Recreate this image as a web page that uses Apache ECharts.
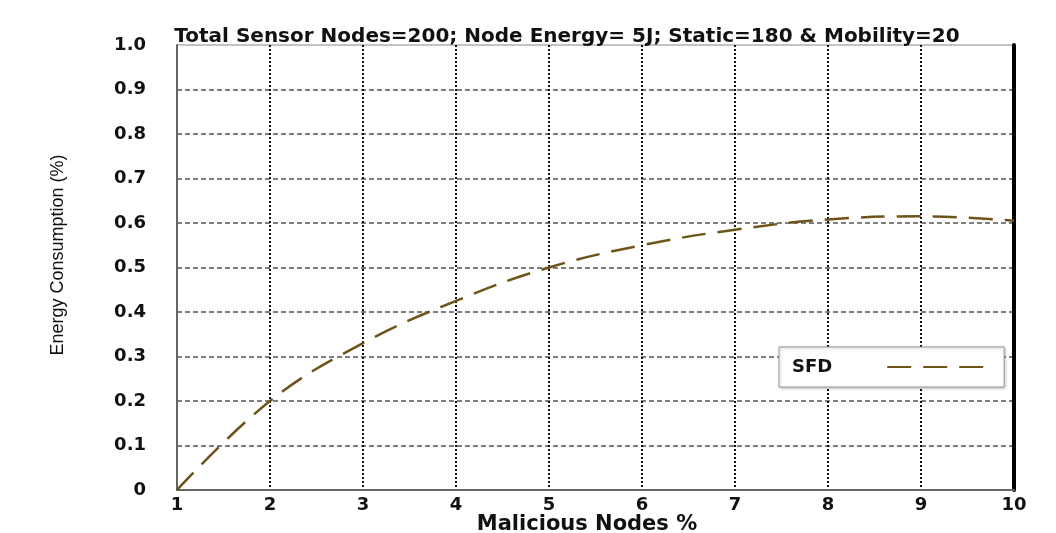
<!DOCTYPE html>
<html>
<head>
<meta charset="utf-8">
<script src="https://cdn.jsdelivr.net/npm/echarts@6/dist/echarts.min.js"></script>
<style>html,body{margin:0;padding:0;background:#fff}#c{width:1056px;height:533px}</style>
</head>
<body>
<div id="c"></div>
<script>
var titleText = 'Total Sensor Nodes=200; Node Energy= 5J; Static=180 & Mobility=20';
var xName = 'Malicious Nodes %';
var yName = 'Energy Consumption (%)';
var seriesName = 'SFD';
var xValues = [1, 2, 3, 4, 5, 6, 7, 8, 9, 10];
var sfdValues = [0.0, 0.2, 0.33, 0.425, 0.5, 0.55, 0.585, 0.608, 0.615, 0.605];

var chart = echarts.init(document.getElementById('c'));
var data = xValues.map(function (x, i) { return [x, sfdValues[i]]; });
var boldFont = 'DejaVu Sans';
chart.setOption({
  animation: false,
  backgroundColor: '#fff',
  title: {
    text: titleText, left: 562, top: 22, textAlign: 'center',
    textStyle: { fontFamily: boldFont, fontWeight: 'bold', fontSize: 20, color: '#111' }
  },
  grid: { left: 177, right: 42, top: 45, bottom: 43, show: true, borderColor: '#888', borderWidth: 1 },
  legend: {
    data: [seriesName], left: 779, top: 347, orient: 'horizontal', align: 'right',
    itemWidth: 108, itemHeight: 14,
    padding: [11, 8, 11, 13],
    backgroundColor: '#fff', borderColor: '#999', borderWidth: 1,
    shadowColor: 'rgba(0,0,0,0.25)', shadowBlur: 3, shadowOffsetX: 1, shadowOffsetY: 1,
    itemStyle: { color: 'rgba(0,0,0,0)', borderWidth: 0 },
    textStyle: { fontFamily: boldFont, fontWeight: 'bold', fontSize: 18, color: '#111', padding: [0, 50, 0, 0] }
  },
  xAxis: {
    type: 'value', min: 1, max: 10, interval: 1,
    axisLine: { show: true, lineStyle: { color: '#666', width: 2 } },
    axisTick: { show: false },
    axisLabel: { margin: 6, fontFamily: boldFont, fontWeight: 'bold', fontSize: 18, color: '#111' },
    splitLine: { show: true, showMinLine: false, showMaxLine: false, lineStyle: { color: '#111', width: 2, type: [2, 2] } }
  },
  yAxis: [{
    type: 'value', min: 0, max: 1, interval: 0.1,
    axisLine: { show: true, lineStyle: { color: '#666', width: 2 } },
    axisTick: { show: false },
    axisLabel: {
      margin: 31, fontFamily: boldFont, fontWeight: 'bold', fontSize: 18, color: '#111',
      formatter: function (v) { return v === 0 ? '0' : v.toFixed(1); }
    },
    splitLine: { show: true, showMinLine: false, showMaxLine: false, lineStyle: { color: '#555', width: 1.5, type: [5, 3] } }
  }, {
    type: 'value', min: 0, max: 1, interval: 0.1, position: 'right',
    axisLine: { show: true, lineStyle: { color: '#000', width: 4 } },
    axisTick: { show: false }, axisLabel: { show: false }, splitLine: { show: false }
  }],
  graphic: [{
    type: 'text', rotation: Math.PI / 2,
    style: { text: yName, fontFamily: 'Liberation Sans Narrow, Liberation Sans', fontSize: 18, fill: '#111', align: 'center', verticalAlign: 'middle' },
    x: 58, y: 255
  }, {
    type: 'text',
    style: { text: xName, fontFamily: boldFont, fontWeight: 'bold', fontSize: 21, fill: '#111', align: 'center', verticalAlign: 'middle' },
    x: 587, y: 525
  }],
  series: [{
    name: seriesName, type: 'line', data: data, smooth: 0.4, symbol: 'none',
    yAxisIndex: 0,
    lineStyle: { color: '#6e5418', width: 2.5, type: [24, 12] },
    itemStyle: { color: '#6e5418' }
  }]
});
</script>
</body>
</html>
